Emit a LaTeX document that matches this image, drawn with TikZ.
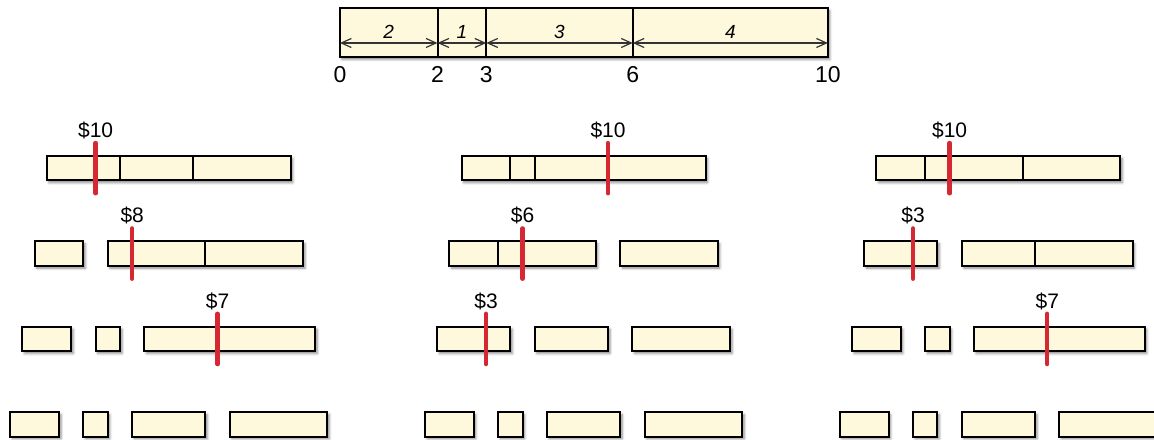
\documentclass[tikz,border=0pt]{standalone}
\usepackage{fontspec}
\setmainfont{Liberation Sans}
\usetikzlibrary{shadows.blur,arrows.meta}
\definecolor{stickfill}{HTML}{FEF9DD}
\definecolor{cutred}{RGB}{214,40,50}
\begin{document}
\begin{tikzpicture}[x=12.2pt,y=12.2pt,
    piece/.style={draw=black, line width=1pt, fill=stickfill,
      blur shadow={shadow xshift=1pt, shadow yshift=-1.2pt, shadow blur radius=1.2pt, shadow opacity=45}},
    joint/.style={draw=black, line width=1pt},
    cut/.style={draw=cutred, line width=2.2pt, line cap=round},
    price/.style={anchor=south, inner sep=1pt, font=\fontsize{10.5}{12}\selectfont},
    dim/.style={draw=black!80, line width=0.6pt, {Straight Barb[length=5pt,width=4.5pt]}-{Straight Barb[length=5pt,width=4.5pt]}},
    dimlabel/.style={above=2pt, inner sep=0pt, font=\fontsize{9.5}{10}\selectfont\itshape},
    tick/.style={below=4.5pt, inner sep=0pt, font=\fontsize{11.5}{13}\selectfont}]
\useasboundingbox (0,0) rectangle (47.295,17.992);
\clip (0,0) rectangle (47.295,17.992);

% the whole stick with its cut positions
\begin{scope}[shift={(13.93,15.65)}]
  \draw[piece] (0,0) rectangle (20,2);
  \foreach \p in {2,3,6} \draw[joint] (2*\p,0) -- (2*\p,2);
  \foreach \p in {0,2,3,6,10} \coordinate (d\p) at (2*\p,0.58);
  \draw[dim] (d0) -- (d2) node[midway, dimlabel] (len1) {2};
  \draw[dim] (d2) -- (d3) node[midway, dimlabel] (len2) {1};
  \draw[dim] (d3) -- (d6) node[midway, dimlabel] (len3) {3};
  \draw[dim] (d6) -- (d10) node[midway, dimlabel] (len4) {4};
  \foreach \p in {0,2,3,6,10} \node[tick] (n\p) at (2*\p,0) {\p};
\end{scope}

% cut order 2, 3, 6
\begin{scope}[shift={(1.92,0)}]
  \draw[piece] (0,10.6) rectangle (10,11.6);
  \draw[joint] (3,10.6) -- (3,11.6);
  \draw[joint] (6,10.6) -- (6,11.6);
  \draw[cut] (2,10.07) -- (2,12.13) node[price] (a1) {\$10};
  \draw[piece] (-0.5,7.1) rectangle (1.5,8.1);
  \draw[piece] (2.5,7.1) rectangle (10.5,8.1);
  \draw[joint] (6.5,7.1) -- (6.5,8.1);
  \draw[cut] (3.5,6.57) -- (3.5,8.63) node[price] (a2) {\$8};
  \draw[piece] (-1,3.6) rectangle (1,4.6);
  \draw[piece] (2,3.6) rectangle (3,4.6);
  \draw[piece] (4,3.6) rectangle (11,4.6);
  \draw[cut] (7,3.07) -- (7,5.13) node[price] (a3) {\$7};
\end{scope}

% cut order 6, 3, 2
\begin{scope}[shift={(18.92,0)}]
  \draw[piece] (0,10.6) rectangle (10,11.6);
  \draw[joint] (2,10.6) -- (2,11.6);
  \draw[joint] (3,10.6) -- (3,11.6);
  \draw[cut] (6,10.07) -- (6,12.13) node[price] (b1) {\$10};
  \draw[piece] (-0.5,7.1) rectangle (5.5,8.1);
  \draw[joint] (1.5,7.1) -- (1.5,8.1);
  \draw[piece] (6.5,7.1) rectangle (10.5,8.1);
  \draw[cut] (2.5,6.57) -- (2.5,8.63) node[price] (b2) {\$6};
  \draw[piece] (-1,3.6) rectangle (2,4.6);
  \draw[piece] (3,3.6) rectangle (6,4.6);
  \draw[piece] (7,3.6) rectangle (11,4.6);
  \draw[cut] (1,3.07) -- (1,5.13) node[price] (b3) {\$3};
\end{scope}

% cut order 3, 2, 6
\begin{scope}[shift={(35.92,0)}]
  \draw[piece] (0,10.6) rectangle (10,11.6);
  \draw[joint] (2,10.6) -- (2,11.6);
  \draw[joint] (6,10.6) -- (6,11.6);
  \draw[cut] (3,10.07) -- (3,12.13) node[price] (c1) {\$10};
  \draw[piece] (-0.5,7.1) rectangle (2.5,8.1);
  \draw[piece] (3.5,7.1) rectangle (10.5,8.1);
  \draw[joint] (6.5,7.1) -- (6.5,8.1);
  \draw[cut] (1.5,6.57) -- (1.5,8.63) node[price] (c2) {\$3};
  \draw[piece] (-1,3.6) rectangle (1,4.6);
  \draw[piece] (2,3.6) rectangle (3,4.6);
  \draw[piece] (4,3.6) rectangle (11,4.6);
  \draw[cut] (7,3.07) -- (7,5.13) node[price] (c3) {\$7};
\end{scope}

% all four pieces, same for every order
\foreach \g in {1.92,18.92,35.92} {
  \begin{scope}[shift={(\g,0)}]
    \draw[piece] (-1.5,0.1) rectangle (0.5,1.1);
    \draw[piece] (1.5,0.1) rectangle (2.5,1.1);
    \draw[piece] (3.5,0.1) rectangle (6.5,1.1);
    \draw[piece] (7.5,0.1) rectangle (11.5,1.1);
  \end{scope}
}
\end{tikzpicture}
\end{document}
